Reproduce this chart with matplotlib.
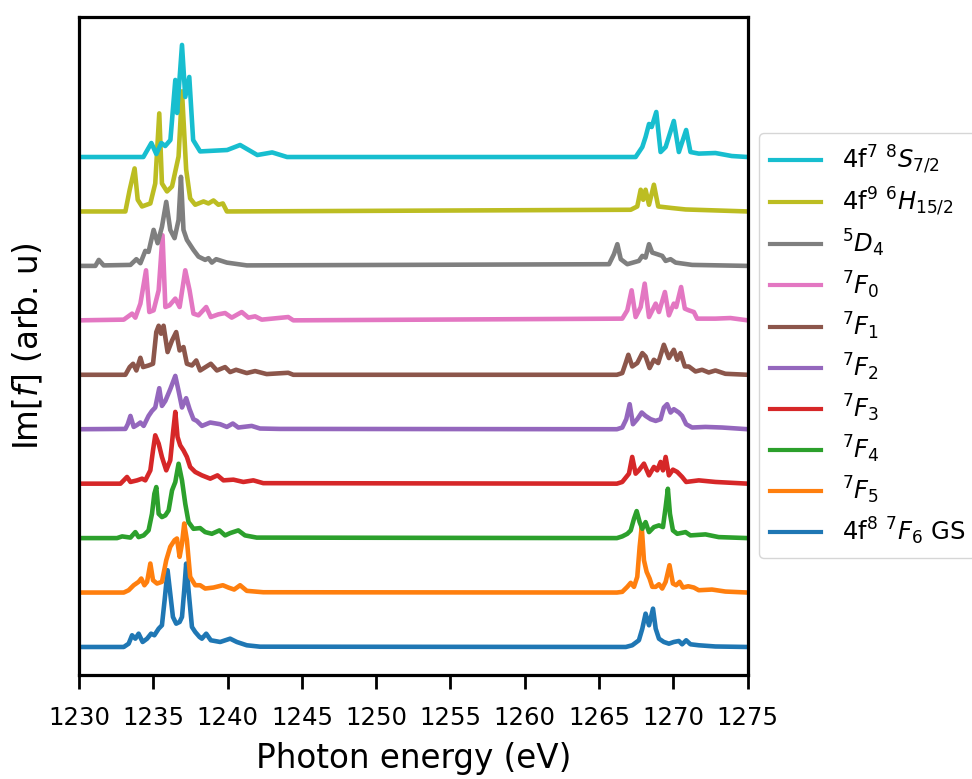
import matplotlib
matplotlib.use("Agg")
import matplotlib.pyplot as plt

# ---- data (photon energy in eV, Im[f] in arb. units) ----
labels = [r'4f$^8$ $^7F_6$ GS', r'$^7F_5$', r'$^7F_4$', r'$^7F_3$', r'$^7F_2$',
          r'$^7F_1$', r'$^7F_0$', r'$^5D_4$', r'4f$^9$ $^6H_{15/2}$', r'4f$^7$ $^8S_{7/2}$']
colors = ['#1f77b4', '#ff7f0e', '#2ca02c', '#d62728', '#9467bd',
          '#8c564b', '#e377c2', '#7f7f7f', '#bcbd22', '#17becf']
offset_step = 54.4

e_gs = [1230, 1233.01, 1233.34, 1233.57, 1233.79, 1234.01, 1234.28, 1234.58, 1234.85, 1235.07,
        1235.36, 1235.58, 1235.76, 1235.96, 1236.14, 1236.32, 1236.54, 1236.77, 1236.93, 1237.08,
        1237.21, 1237.37, 1237.6, 1237.82, 1238.11, 1238.27, 1238.56, 1238.87, 1239.5, 1240.17,
        1240.62, 1241.29, 1242.18, 1266.8, 1267.23, 1267.68, 1267.91, 1268.13, 1268.36, 1268.63,
        1268.81, 1269.03, 1269.36, 1269.7, 1270.03, 1270.37, 1270.59, 1270.86, 1271.15, 1271.71,
        1272.83, 1275]
i_gs = [0, 0, 3.3, 11.7, 8.3, 13.3, 5, 8.3, 13.3, 11.7,
        18.3, 21.7, 46.7, 76.7, 53.3, 30, 23.3, 25, 30, 56.7,
        83.3, 56.7, 20, 15, 10, 8.3, 13.3, 6.7, 5, 8.3,
        5, 1.7, 0.3, 0, 1.7, 6.7, 18.3, 33.3, 21.7, 38.3,
        18.3, 8.3, 5, 3.3, 5, 6, 2.7, 6.7, 2.7, 1.7,
        0.5, 0]

e_f5 = [1230, 1233.01, 1233.34, 1233.68, 1234.01, 1234.19, 1234.4, 1234.58, 1234.8, 1234.98,
        1235.25, 1235.58, 1235.87, 1236.14, 1236.43, 1236.59, 1236.77, 1236.93, 1237.08, 1237.26,
        1237.48, 1237.82, 1238.15, 1238.49, 1239.05, 1239.68, 1240.05, 1240.44, 1240.84, 1241.29,
        1242.4, 1266.2, 1266.56, 1266.9, 1267.13, 1267.35, 1267.57, 1267.73, 1267.87, 1268.02,
        1268.2, 1268.4, 1268.58, 1268.81, 1269.03, 1269.25, 1269.48, 1269.74, 1269.97, 1270.19,
        1270.42, 1270.64, 1271.0, 1271.38, 1271.71, 1272.6, 1273.5, 1275]
i_f5 = [0, 0, 2.3, 7.3, 10.7, 14, 7.3, 10.7, 29, 12.3,
        9, 10.7, 32.3, 45.7, 52.3, 54, 35.7, 49, 69, 52.3,
        15.7, 7.3, 7.3, 4, 5, 7.3, 5, 3, 7.3, 1.7,
        0.3, 0, 0.7, 5.7, 9.7, 5.7, 15.7, 45.7, 65.7, 32.3,
        20.7, 14, 5.7, 5.7, 8.3, 4, 10.7, 27.3, 9, 7.3,
        10.7, 5, 6.3, 5, 2.3, 3, 1, 0]

e_f4 = [1230, 1232.56, 1232.9, 1233.23, 1233.46, 1233.79, 1234.01, 1234.35, 1234.68, 1234.91,
        1235.07, 1235.2, 1235.36, 1235.58, 1235.81, 1236.03, 1236.26, 1236.48, 1236.7, 1236.93,
        1237.15, 1237.37, 1237.7, 1238.15, 1238.49, 1238.94, 1239.45, 1239.83, 1240.17, 1240.72,
        1241.17, 1241.96, 1266.2, 1266.56, 1266.9, 1267.13, 1267.35, 1267.53, 1267.73, 1267.91,
        1268.13, 1268.36, 1268.69, 1269.03, 1269.3, 1269.48, 1269.63, 1269.77, 1269.97, 1270.26,
        1270.82, 1271.15, 1272.16, 1273.05, 1275]
i_f4 = [0, 0, 1.7, 1, 0.5, 6, 1, 2.7, 7.7, 24.3,
        44.3, 51, 24.3, 21, 22.7, 27.7, 47.7, 56, 74.3, 57.7,
        34.3, 16, 9.3, 10, 6, 4.3, 7.7, 2.7, 5, 7.7,
        2.7, 0.5, 0, 1.7, 4.3, 7.7, 19.3, 27, 16, 9.3,
        16, 6, 11, 12.7, 11, 31, 49.3, 24.3, 7.7, 4.3,
        6, 2.7, 3.7, 1, 0]

e_f3 = [1230, 1232.79, 1233.01, 1233.23, 1233.46, 1233.91, 1234.24, 1234.46, 1234.8, 1234.98,
        1235.13, 1235.36, 1235.58, 1235.87, 1236.14, 1236.32, 1236.48, 1236.63, 1236.81, 1237.03,
        1237.26, 1237.48, 1237.82, 1238.27, 1238.83, 1239.32, 1239.72, 1240.39, 1241.06, 1241.73,
        1242.4, 1266.2, 1266.56, 1267.01, 1267.23, 1267.46, 1267.68, 1268.02, 1268.36, 1268.69,
        1268.91, 1269.14, 1269.3, 1269.48, 1269.7, 1269.97, 1270.26, 1270.59, 1270.86, 1271.71,
        1272.83, 1275]
i_f3 = [0, 0, 3.3, 6.7, 1.7, 3.3, 5, 3.3, 13.3, 33.3,
        48.3, 40, 26.7, 13.3, 23.3, 50, 71.7, 46.7, 38.3, 33.3,
        26.7, 16.7, 11.7, 8.3, 5, 8.3, 3.3, 4, 1.7, 3.3,
        0.5, 0, 1.7, 10, 26.7, 10, 13.3, 20, 8.3, 16.7,
        13.3, 21.7, 13.3, 26.7, 8.3, 14, 11.7, 6.7, 1.7, 3.3,
        1.7, 0]

e_f2 = [1230, 1233.12, 1233.28, 1233.46, 1233.68, 1233.91, 1234.13, 1234.35, 1234.68, 1234.91,
        1235.13, 1235.4, 1235.58, 1235.81, 1236.14, 1236.48, 1236.7, 1236.93, 1237.21, 1237.44,
        1237.7, 1237.93, 1238.27, 1238.83, 1239.5, 1239.95, 1240.35, 1240.72, 1241.62, 1242.18,
        1243.52, 1266.2, 1266.56, 1266.83, 1267.06, 1267.28, 1267.57, 1267.87, 1268.13, 1268.47,
        1268.81, 1269.14, 1269.36, 1269.58, 1269.81, 1270.03, 1270.37, 1270.59, 1270.86, 1271.26,
        1272.16, 1273.28, 1275]
i_f2 = [0, 0.3, 5, 13.3, 2.3, 4.3, 6.7, 3.3, 13.3, 18.3,
        21.7, 41, 23.3, 28.3, 40, 53.3, 38.3, 21.7, 31, 20,
        10, 8.3, 3.3, 6.7, 5, 2.3, 5.7, 1.7, 3.3, 0.7,
        0.3, 0, 1.7, 10, 25, 5, 10, 16.7, 13.3, 10,
        8.3, 10, 21.7, 25, 16.7, 20, 16.7, 13.3, 5, 1.7,
        2.3, 1.7, 0]

e_f1 = [1230, 1233.12, 1233.41, 1233.64, 1233.86, 1234.13, 1234.31, 1234.68, 1234.98, 1235.2,
        1235.36, 1235.52, 1235.69, 1235.96, 1236.26, 1236.54, 1236.77, 1237.03, 1237.26, 1237.6,
        1237.89, 1238.15, 1238.87, 1239.28, 1239.83, 1240.17, 1240.57, 1241.29, 1241.85, 1242.63,
        1244.08, 1244.42, 1266.2, 1266.56, 1266.79, 1266.97, 1267.23, 1267.57, 1267.91, 1268.13,
        1268.4, 1268.69, 1268.98, 1269.36, 1269.7, 1270.03, 1270.26, 1270.48, 1270.77, 1271.04,
        1271.49, 1271.93, 1272.38, 1272.83, 1273.5, 1275]
i_f1 = [0, 0, 7.7, 11, 4.3, 17, 7.7, 9.3, 11, 42.7,
        49, 41, 49, 22.7, 34.3, 42.7, 24.3, 27.7, 11, 9.3,
        14.3, 4.3, 11, 4.3, 7.7, 2.7, 5, 1.7, 3.7, 0.7,
        2, 0, 0, 1.7, 11.7, 20, 8.3, 11.7, 21.7, 18.3,
        6.7, 15, 11.7, 30, 16.7, 25, 15, 21.7, 8.3, 8.3,
        3.3, 5, 2.3, 4.3, 1, 0]

e_f0 = [1230, 1233.01, 1233.57, 1233.79, 1234.13, 1234.51, 1234.73, 1235.02, 1235.36, 1235.62,
        1235.81, 1236.09, 1236.48, 1236.77, 1237.15, 1237.44, 1237.7, 1238.04, 1238.56, 1238.87,
        1239.38, 1239.83, 1240.28, 1240.95, 1241.4, 1241.85, 1242.3, 1244.08, 1244.42, 1266.56,
        1266.9, 1267.19, 1267.46, 1267.8, 1268.07, 1268.36, 1268.81, 1269.03, 1269.43, 1269.7,
        1270.03, 1270.19, 1270.52, 1270.77, 1271.04, 1271.38, 1271.6, 1272.83, 1273.84, 1275]
i_f0 = [0, 0.7, 6.7, 2.7, 16.7, 50, 8.3, 10, 30, 85,
        13.3, 15, 21.7, 13.3, 50, 30, 6.7, 5, 13.3, 3.3,
        6, 7.3, 2.7, 8.3, 2.7, 4, 0.7, 3.3, 0, 1.7,
        10, 30, 3.3, 13.3, 36.7, 3.3, 16.7, 8.3, 28.3, 5,
        16.7, 13.3, 33.3, 11.7, 10, 8.3, 1.7, 1.7, 2.3, 0]

e_d4 = [1230, 1231.1, 1231.33, 1231.66, 1233.46, 1233.86, 1234.13, 1234.46, 1234.68, 1235.02,
        1235.29, 1235.58, 1235.87, 1236.14, 1236.43, 1236.7, 1236.86, 1237.03, 1237.26, 1237.7,
        1238.04, 1238.49, 1238.71, 1238.94, 1239.23, 1239.95, 1241.29, 1265.67, 1266.0, 1266.23,
        1266.46, 1266.9, 1267.68, 1267.91, 1268.13, 1268.36, 1268.58, 1268.91, 1269.25, 1269.48,
        1269.81, 1270.15, 1271.26, 1275]
i_d4 = [0, 0, 6, 0.5, 1, 6.7, 2.7, 15, 14, 36,
        22.7, 39, 64, 36, 27.7, 46, 89, 36, 26, 16,
        9.3, 6, 7.7, 3.3, 6.7, 3.3, 0.5, 1.7, 11.7, 21.7,
        6.7, 1.7, 5, 10, 8.3, 21.7, 13.3, 11.7, 10, 5,
        6.7, 3.3, 1, 0]

e_h = [1230, 1233.12, 1233.41, 1233.74, 1233.95, 1234.24, 1234.8, 1235.13, 1235.4, 1235.58,
       1235.92, 1236.26, 1236.7, 1236.93, 1237.21, 1237.48, 1237.82, 1238.38, 1238.71, 1239.05,
       1239.38, 1239.68, 1239.95, 1267.13, 1267.57, 1267.8, 1267.97, 1268.13, 1268.36, 1268.69,
       1268.98, 1269.92, 1270.82, 1275]
i_h = [0, 0, 21.7, 43, 11.7, 5, 8, 28, 98, 28,
       20, 25, 55, 120, 42, 13, 6.7, 10, 8, 11,
       6.7, 8, 0, 1.7, 5, 21.7, 11.7, 21.7, 6.7, 26.7,
       5, 3.4, 2, 0]

e_s = [1230, 1234.33, 1234.87, 1235.2, 1235.54, 1235.8, 1236.15, 1236.48, 1236.6, 1236.93,
       1237.15, 1237.42, 1237.68, 1238.15, 1239.97, 1240.84, 1242.0, 1243.0, 1244.0, 1267.46,
       1267.91, 1268.13, 1268.36, 1268.54, 1268.85, 1269.14, 1269.48, 1270.03, 1270.37, 1270.86,
       1271.15, 1271.71, 1272.83, 1273.93, 1275]
i_s = [0, 0, 14, 3, 14, 11, 17, 77, 44, 112,
       60, 80, 17, 5.6, 7, 12, 2, 4.6, 0, 0,
       10, 20, 33, 30, 45, 5, 10, 36, 5, 27,
       5, 3.4, 4, 1, 0]

energies = [e_gs, e_f5, e_f4, e_f3, e_f2, e_f1, e_f0, e_d4, e_h, e_s]
intensities = [i_gs, i_f5, i_f4, i_f3, i_f2, i_f1, i_f0, i_d4, i_h, i_s]
xticks = [1230, 1235, 1240, 1245, 1250, 1255, 1260, 1265, 1270, 1275]

# ---- figure ----
fig = plt.figure(figsize=(9.72, 7.79), dpi=100)
ax = fig.add_axes([0.0813, 0.1335, 0.7692 - 0.0813, 0.9788 - 0.1335])

lines = []
for k, (e, inten) in enumerate(zip(energies, intensities)):
    y = [v + k * offset_step for v in inten]
    ln, = ax.plot(e, y, color=colors[k], lw=3.3, label=labels[k],
                  solid_joinstyle='round')
    lines.append(ln)

ax.set_xlim(1230, 1275)
ax.set_ylim(-28, 630)
ax.set_xticks(xticks)
ax.set_xticklabels([str(t) for t in xticks])
ax.set_yticks([])
for sp in ax.spines.values():
    sp.set_linewidth(2.3)
ax.tick_params(axis='x', labelsize=17.6, length=10, width=2, pad=12)
ax.set_xlabel('Photon energy (eV)', fontsize=23.5, labelpad=9)
ax.set_ylabel(r'Im[$f$] (arb. u)', fontsize=23.5, labelpad=24)

leg = fig.legend(lines[::-1], labels[::-1], loc='upper left',
                 bbox_to_anchor=(759 / 972, 1 - 133 / 779), fontsize=17.5,
                 frameon=True, borderaxespad=0, handlelength=2.1,
                 handletextpad=0.85, labelspacing=0.4, borderpad=0.45)
for h in leg.get_lines():
    h.set_linewidth(3.0)

fig.savefig('out.png', dpi=100)
